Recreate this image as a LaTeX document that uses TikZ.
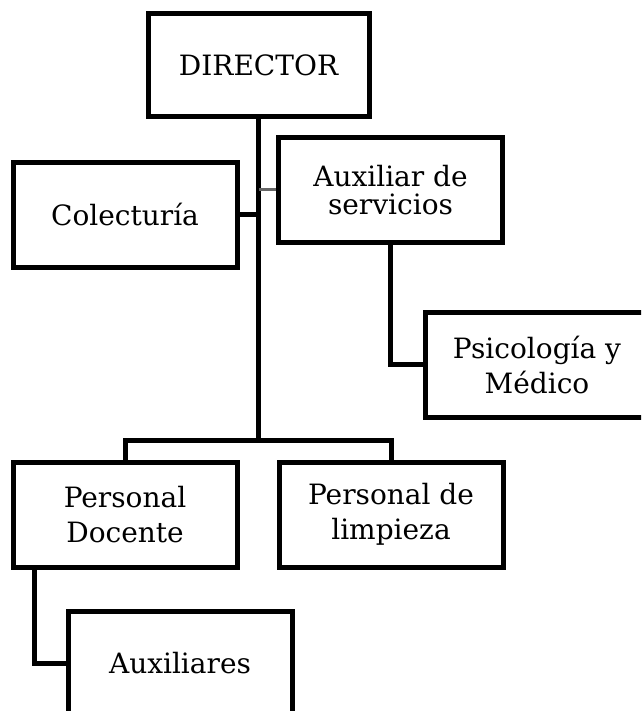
\documentclass[tikz,border=0pt]{standalone}
\usepackage{fontspec}
\setmainfont{DejaVu Serif}

\tikzset{
  cargo/.style={draw, line width=5pt, minimum width=224pt, minimum height=105pt,
    inner sep=0pt, align=center, font=\fontsize{28}{35}\selectfont},
  link/.style={line width=5pt},
  thinlink/.style={line width=3pt, black!60},
}

\begin{document}
\begin{tikzpicture}[x=1pt, y=-1pt]

\useasboundingbox (0,0) rectangle (641,711);
\clip (0,0) rectangle (641,711); %% boxes run off the page

\node[cargo, minimum width=221pt, minimum height=103pt] (dir) at (258.5,65.5) {DIRECTOR};
\node[cargo] (col) at (125,215) {Colecturía};
\node[cargo, font=\fontsize{28}{28}\selectfont] (aux) at (390.5,190) {Auxiliar de\\servicios};
\node[cargo] (psi) at (537,364.5) {Psicología y\\Médico};
\node[cargo] (doc) at (125,514.5) {Personal\\Docente};
\node[cargo] (lim) at (391,514.5) {Personal de\\limpieza};
\node[cargo] (axs) at (180,663.5) {Auxiliares};

\coordinate (split) at (dir.south |- 0,440);

\draw[link] (dir.south) -- (split);
\draw[link] (col.east) -- (col.east -| dir.south);
\draw[thinlink] (aux.west) -- (aux.west -| dir.south);
\draw[link] (aux.south) |- (psi.west);
\draw[link] (doc.north) |- (split) -| (lim.north);
\draw[link] ([xshift=24pt]doc.south west) |- (axs.west);

\end{tikzpicture}
\end{document}
